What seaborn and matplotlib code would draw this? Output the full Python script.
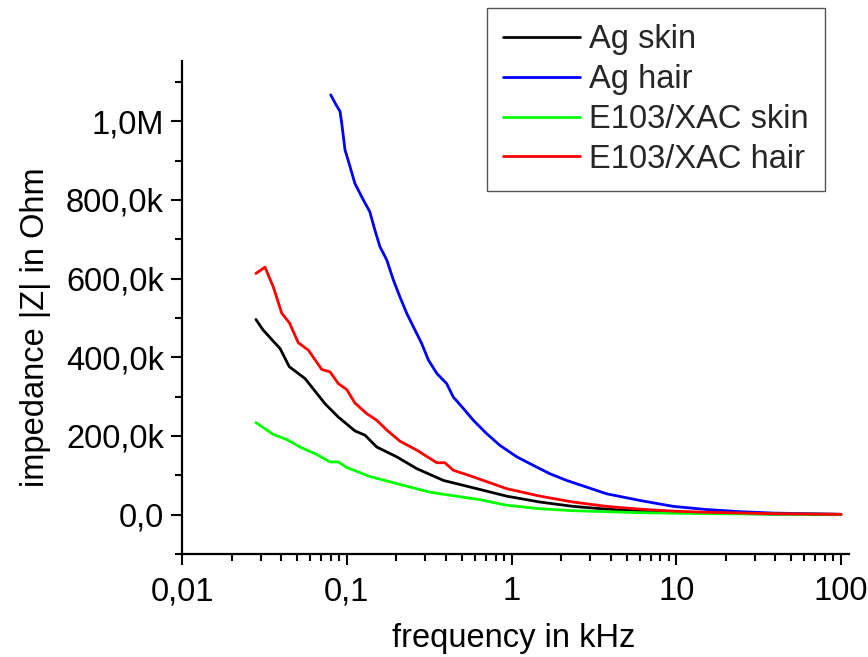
import matplotlib
matplotlib.use("Agg")
import matplotlib.pyplot as plt
import matplotlib.ticker as mticker
import numpy as np
import pandas as pd
import seaborn as sns

# ---- data (frequency in kHz, impedance in kOhm) ----
ag_skin_f = [0.0281, 0.0311, 0.0394, 0.0448, 0.0558, 0.0738, 0.0889, 0.112, 0.129, 0.152,
             0.201, 0.266, 0.386, 0.644, 0.935, 1.49, 2.37, 3.78, 6.03, 15.3, 38.6, 100]
ag_skin_z = [496, 469, 422, 376, 346, 282, 248, 213, 202, 172,
             147, 117, 87, 64, 47, 32, 21, 14, 9, 4, 1.5, 0.8]

ag_hair_f = [0.0799, 0.0860, 0.0910, 0.0932, 0.0976, 0.1046, 0.112, 0.126, 0.138, 0.148,
             0.159, 0.175, 0.192, 0.210, 0.231, 0.254, 0.285, 0.313, 0.352, 0.404,
             0.443, 0.510, 0.586, 0.706, 0.851, 1.076, 1.36, 1.71, 2.16, 3.78,
             6.03, 9.6, 15.3, 24.4, 38.6, 100]
ag_hair_z = [1067, 1042, 1025, 995, 927, 885, 842, 800, 770, 724,
             681, 647, 596, 554, 512, 477, 435, 393, 359, 333,
             299, 270, 240, 206, 176, 147, 125, 104, 87, 53,
             36, 21, 13, 7.6, 4, 0.8]

e103_skin_f = [0.0281, 0.0358, 0.0432, 0.052, 0.0657, 0.0791, 0.0889, 0.100, 0.138, 0.201,
               0.320, 0.644, 0.935, 1.49, 2.37, 6.03, 15.3, 38.6, 100]
e103_skin_z = [234, 204, 191, 172, 153, 134, 134, 120, 97, 79,
               57, 38, 24, 15, 10, 5, 2.5, 1.5, 0.8]

e103_hair_f = [0.0281, 0.0319, 0.0358, 0.0403, 0.0448, 0.0508, 0.0585, 0.0705, 0.0791, 0.0889,
               0.100, 0.112, 0.132, 0.152, 0.175, 0.210, 0.266, 0.352, 0.394, 0.443,
               0.586, 0.935, 1.49, 2.37, 3.78, 6.03, 9.6, 15.3, 38.6, 100]
e103_hair_z = [613, 629, 579, 512, 488, 437, 418, 369, 363, 333,
               318, 284, 257, 240, 215, 187, 164, 132, 132, 113,
               96, 66, 47, 32, 21, 14, 9, 6, 2.5, 0.8]

series_names = ["Ag skin", "Ag hair", "E103/XAC skin", "E103/XAC hair"]
series_colors = ["#000000", "#0000ff", "#00ff00", "#ff0000"]

y_ticks = [0, 200e3, 400e3, 600e3, 800e3, 1000e3]
y_tick_labels = ["0,0", "200,0k", "400,0k", "600,0k", "800,0k", "1,0M"]
x_ticks = [0.01, 0.1, 1, 10, 100]
x_tick_labels = ["0,01", "0,1", "1", "10", "100"]

frames = []
for name, f, z in [(series_names[0], ag_skin_f, ag_skin_z),
                   (series_names[1], ag_hair_f, ag_hair_z),
                   (series_names[2], e103_skin_f, e103_skin_z),
                   (series_names[3], e103_hair_f, e103_hair_z)]:
    frames.append(pd.DataFrame({"f": f, "Z": np.array(z) * 1000.0, "series": name}))
df = pd.concat(frames, ignore_index=True)

sns.set_style("ticks")
plt.rcParams["font.family"] = ["Liberation Sans", "DejaVu Sans"]

fig = plt.figure(figsize=(8.68, 6.57), dpi=100)
ax = fig.add_axes([182 / 868, 1 - 554 / 657, (849 - 182) / 868, (554 - 61) / 657])

sns.lineplot(data=df, x="f", y="Z", hue="series", hue_order=series_names,
             palette=dict(zip(series_names, series_colors)), linewidth=2.0,
             estimator=None, sort=True, ax=ax, legend=False)

ax.set_xscale("log")
ax.set_xlim(0.01, 100 * 10 ** (8 / 164.75))
ax.set_ylim(-100e3, 1153e3)

ax.set_xticks(x_ticks)
ax.set_xticklabels(x_tick_labels)
ax.xaxis.set_minor_locator(mticker.LogLocator(base=10, subs=np.arange(2, 10)))
ax.xaxis.set_minor_formatter(mticker.NullFormatter())
ax.set_yticks(y_ticks)
ax.set_yticklabels(y_tick_labels)
ax.yaxis.set_minor_locator(mticker.MultipleLocator(100e3))

fs = 23.5
ax.tick_params(axis="both", which="major", direction="out", length=8, width=1.5,
               labelsize=fs, color="black", labelcolor="black")
ax.tick_params(axis="both", which="minor", direction="out", length=5, width=1.5, color="black")
ax.tick_params(axis="x", which="major", pad=8)
ax.tick_params(axis="y", which="major", pad=5)

for s in ["top", "right"]:
    ax.spines[s].set_visible(False)
for s in ["left", "bottom"]:
    ax.spines[s].set_linewidth(1.6)
    ax.spines[s].set_color("black")

ax.set_xlabel("frequency in kHz", fontsize=fs, color="black")
ax.set_ylabel("impedance |Z| in Ohm", fontsize=fs, color="black")
ax.xaxis.set_label_coords((514 - 182) / (849 - 182), -(638 - 554) / (554 - 61))
ax.yaxis.set_label_coords(-(182 - 36) / (849 - 182), (554 - 327) / (554 - 61))
ax.xaxis.label.set_va("center")
ax.yaxis.label.set_va("center")

handles = [plt.Line2D([], [], color=c, linewidth=2.0) for c in series_colors]
leg = fig.legend(handles, series_names, loc="upper left",
                 bbox_to_anchor=(487 / 868, 1 - 8 / 657), bbox_transform=fig.transFigure,
                 borderaxespad=0, fontsize=fs, frameon=True, fancybox=False,
                 handlelength=2.35, handletextpad=0.28, labelspacing=0.27, borderpad=0.5)
frame = leg.get_frame()
frame.set_edgecolor("#555555")
frame.set_linewidth(1.0)
frame.set_facecolor("white")
frame.set_alpha(1)

fig.savefig("out.png", dpi=100, facecolor="white")
